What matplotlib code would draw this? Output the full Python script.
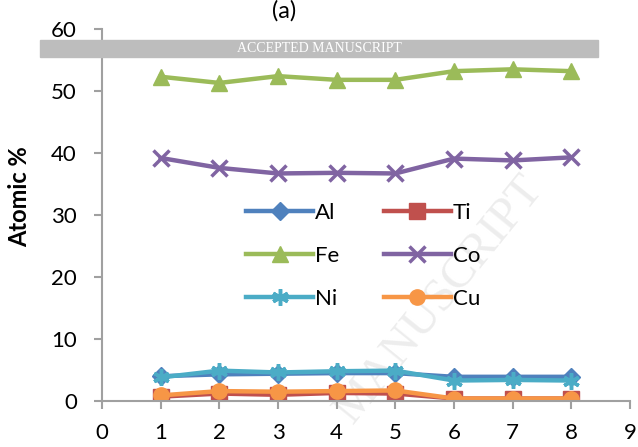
import numpy as np
import matplotlib
matplotlib.use("Agg")
import matplotlib.pyplot as plt

plt.rcParams['font.family'] = ['Lato', 'DejaVu Sans']

x = [1, 2, 3, 4, 5, 6, 7, 8]
al = [4.0, 4.3, 4.4, 4.5, 4.5, 3.9, 3.9, 3.9]
ti = [0.7, 1.2, 1.0, 1.3, 1.2, 0.4, 0.4, 0.4]
fe = [52.3, 51.3, 52.4, 51.8, 51.8, 53.2, 53.5, 53.2]
co = [39.2, 37.6, 36.7, 36.8, 36.7, 39.1, 38.8, 39.3]
ni = [3.8, 4.9, 4.6, 4.8, 4.9, 3.3, 3.4, 3.3]
cu = [0.9, 1.6, 1.5, 1.6, 1.7, 0.4, 0.4, 0.4]

fig = plt.figure(figsize=(6.38, 4.47), dpi=100)
ax = fig.add_axes([102/638, 1-401/447, 528/638, 372/447])

lw = 3.2
h_al, = ax.plot(x, al, color='#4F81BD', lw=lw, marker='D', ms=9, label='Al')
h_ti, = ax.plot(x, ti, color='#C0504D', lw=lw, marker='s', ms=11, label='Ti')
h_fe, = ax.plot(x, fe, color='#9BBB59', lw=lw, marker='^', ms=12, label='Fe')
h_co, = ax.plot(x, co, color='#8064A2', lw=lw, marker='x', ms=11, mew=2.5, label='Co')
h_ni, = ax.plot(x, ni, color='#4BACC6', lw=lw, marker=(6, 2, 0), ms=12, mew=2.5, label='Ni')
h_cu, = ax.plot(x, cu, color='#F79646', lw=lw, marker='o', ms=11, label='Cu')

ax.set_xlim(0, 9)
ax.set_ylim(0, 60)
ax.set_xticks(range(0, 10))
ax.set_yticks(range(0, 70, 10))
for s in ['top', 'right']:
    ax.spines[s].set_visible(False)
for s in ['left', 'bottom']:
    ax.spines[s].set_color('#A0A0A0')
    ax.spines[s].set_linewidth(1.5)
ax.tick_params(axis='both', colors='#A0A0A0', labelcolor='black', labelsize=16, width=1.5, length=6)
ax.tick_params(axis='y', pad=12)
ax.tick_params(axis='x', pad=10)
ax.set_ylabel('Atomic %', fontsize=17, fontweight='bold')
ax.yaxis.set_label_coords(-0.135, 0.55)

# row order Al Ti / Fe Co / Ni Cu
handles = [h_al, h_fe, h_ni, h_ti, h_co, h_cu]
leg = ax.legend(handles, [h.get_label() for h in handles], ncol=2, loc='center',
                bbox_to_anchor=(0.495, 0.39), frameon=False,
                fontsize=16, handlelength=3.0, columnspacing=2.0, labelspacing=1.05,
                handletextpad=0.1)

fig.text(284/638, 1-11/447, '(a)', fontsize=17, ha='center', va='center')

# watermark band
fig.patches.append(plt.Rectangle((40/638, 1-57/447), 558/638, 17/447,
                                 transform=fig.transFigure, color='#BDBDBD', zorder=5))
fig.text(319/638, 1-48/447, 'ACCEPTED MANUSCRIPT', family='Liberation Serif', fontsize=10,
         color='white', ha='center', va='center', zorder=6)
ax.text(440/638, 1-300/447, 'MANUSCRIPT', family='Liberation Serif', fontsize=34,
        color='#EDEDED', ha='center', va='center', rotation=51, zorder=0.5,
        transform=fig.transFigure, clip_on=False)

fig.savefig('out.png', dpi=100)
